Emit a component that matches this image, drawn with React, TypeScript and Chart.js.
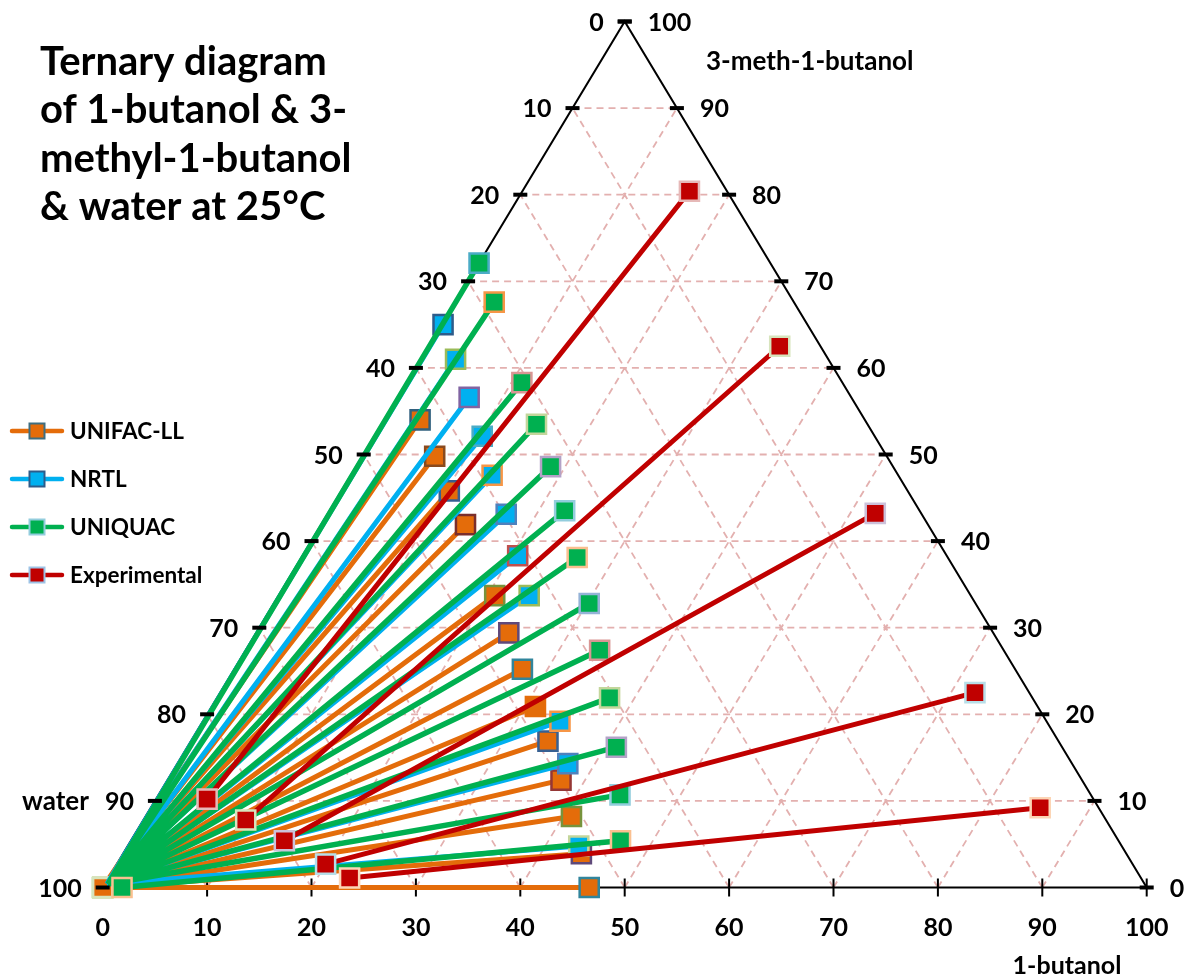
import React, { useEffect, useRef } from 'react';
import { Chart, registerables } from 'chart.js';

Chart.register(...registerables);

// ---------- data (ternary compositions, mass %: 1-butanol = b, 3-methyl-1-butanol = m, water = rest) ----------
const TICKS = [0, 10, 20, 30, 40, 50, 60, 70, 80, 90, 100];
const GRID_VALUES = [10, 20, 30, 40, 50, 60, 70, 80, 90];

const TITLE_LINES = ['Ternary diagram', 'of 1-butanol & 3-', 'methyl-1-butanol', '& water at 25°C'];
const SERIES_NAMES = ['UNIFAC-LL', 'NRTL', 'UNIQUAC', 'Experimental'];
const AXIS_BOTTOM_TITLE = '1-butanol';
const AXIS_RIGHT_TITLE = '3-meth-1-butanol';
const AXIS_LEFT_TITLE = 'water';

// UNIFAC-LL
const UNIFAC_ORG_B = [3.4, 6.9, 10.3, 13.8, 20.7, 24.2, 27.6, 31.0, 34.2, 37.7, 40.8, 43.9, 46.6];
const UNIFAC_ORG_M = [54.0, 49.8, 45.8, 41.9, 33.7, 29.4, 25.2, 20.9, 16.9, 12.4, 8.2, 3.9, 0.0];
const UNIFAC_AQ_B = [0.0, 0.0, 0.0, 0.0, 0.0, 0.0, 0.0, 0.0, 0.0, 0.0, 0.0, 0.0, 0.0];
const UNIFAC_AQ_M = [0.0, 0.0, 0.0, 0.0, 0.0, 0.0, 0.0, 0.0, 0.0, 0.0, 0.0, 0.0, 0.0];

// NRTL
const NRTL_ORG_B = [0.1, 3.3, 6.8, 10.3, 13.5, 17.1, 20.6, 24.0, 34.2, 37.4, 43.2];
const NRTL_ORG_M = [65.0, 61.0, 56.6, 52.1, 47.6, 43.1, 38.3, 33.7, 19.2, 14.3, 4.8];
const NRTL_AQ_B = [0.2, 0.2, 0.2, 0.2, 0.2, 0.2, 0.2, 0.2, 0.2, 0.2, 0.2];
const NRTL_AQ_M = [0.4, 0.4, 0.4, 0.4, 0.4, 0.4, 0.4, 0.4, 0.4, 0.4, 0.4];

// UNIQUAC
const UNIQUAC_ORG_B = [0.0, 3.7, 11.0, 14.8, 18.6, 22.5, 26.4, 30.2, 33.9, 37.6, 41.1, 44.2, 46.9];
const UNIQUAC_ORG_M = [72.1, 67.6, 58.3, 53.5, 48.6, 43.5, 38.1, 32.8, 27.4, 21.9, 16.2, 10.7, 5.4];
const UNIQUAC_AQ_B = [0.3, 0.3, 0.3, 0.3, 0.3, 0.3, 0.3, 0.3, 0.3, 0.3, 0.3, 0.3, 1.85];
const UNIQUAC_AQ_M = [0.4, 0.4, 0.4, 0.4, 0.4, 0.4, 0.4, 0.4, 0.4, 0.4, 0.4, 0.4, 0.0];

// Experimental
const EXP_ORG_B = [16.0, 33.6, 52.4, 72.3, 85.2];
const EXP_ORG_M = [80.4, 62.5, 43.2, 22.5, 9.2];
const EXP_AQ_B = [4.9, 9.8, 14.7, 20.0, 23.1];
const EXP_AQ_M = [10.2, 7.8, 5.4, 2.7, 1.1];

// ---------- styles ----------
const FONT = 'Lato, "Open Sans", sans-serif';
const C_ORANGE = '#E46C0A';
const C_BLUE = '#00B0F0';
const C_GREEN = '#00B050';
const C_RED = '#C00000';
const C_GRID = '#E3B0AF';
const MARKER_R = 13.5;

const UNIFAC_ORG_BORDER = ['#31607E', '#8A4A1E', '#376092', '#7A2E2C', '#77933C', '#5F497A', '#31859C', '#E46C0A', '#376092', '#953735', '#77933C', '#5F497A', '#31859C'];
const NRTL_ORG_BORDER = ['#2E5C8A', '#9BBB59', '#8064A2', '#4BACC6', '#F79646', '#4F81BD', '#C0504D', '#9BBB59', '#F79646', '#4F81BD', '#C3D69B'];
const UNIQUAC_ORG_BORDER = ['#4BACC6', '#F79646', '#D99694', '#C3D69B', '#B3A2C7', '#93CDDD', '#FAC090', '#95B3D7', '#D99694', '#C3D69B', '#B3A2C7', '#93CDDD', '#FAC090'];
const EXP_ORG_BORDER = ['#E6B9B8', '#D7E4BD', '#CCC1DA', '#B7DEE8', '#FCD5B5'];
const EXP_AQ_BORDER = ['#E6B9B8', '#D7E4BD', '#CCC1DA', '#B7DEE8', '#FCD5B5'];

const LEGEND_COLORS = [C_ORANGE, C_BLUE, C_GREEN, C_RED];
const LEGEND_BORDERS = ['#3F6E80', '#2E5C8A', '#93CDDD', '#9DC3E6'];

const tern = (b: number, m: number) => ({ x: b + m / 2, y: m });

function tieSeries(aqB: number[], aqM: number[], orgB: number[], orgM: number[], aqR: number[], orgBorder: string[], aqBorder: string[]) {
  const data: any[] = [];
  const radius: number[] = [];
  const borders: string[] = [];
  for (let i = 0; i < orgB.length; i++) {
    data.push(tern(aqB[i], aqM[i]), tern(orgB[i], orgM[i]), { x: orgB[i] + orgM[i] / 2, y: null });
    radius.push(aqR[i], MARKER_R, 0);
    borders.push(aqBorder[i], orgBorder[i], 'rgba(0,0,0,0)');
  }
  return { data, radius, borders };
}

export default function App() {
  const ref = useRef<HTMLCanvasElement>(null);

  useEffect(() => {
    const canvas = ref.current;
    if (!canvas) return;

    // grid lines parallel to the three sides
    const grid: any[] = [];
    GRID_VALUES.forEach((v) => {
      grid.push(tern(0, v), tern(100 - v, v), { x: 0, y: null });
      grid.push(tern(v, 0), tern(v, 100 - v), { x: 0, y: null });
      grid.push(tern(100 - v, 0), tern(0, 100 - v), { x: 0, y: null });
    });

    const triangle = [tern(0, 0), tern(0, 100), tern(100, 0), tern(0, 0)];
    const leftTicks = TICKS.map((t) => tern(0, t));
    const rightTicks = TICKS.map((t) => tern(100 - t, t));
    const bottomTicks = TICKS.map((t) => tern(t, 0));

    const uni = tieSeries(UNIFAC_AQ_B, UNIFAC_AQ_M, UNIFAC_ORG_B, UNIFAC_ORG_M,
      UNIFAC_ORG_B.map(() => MARKER_R), UNIFAC_ORG_BORDER, UNIFAC_ORG_B.map(() => '#D7E4BD'));
    const nrtl = tieSeries(NRTL_AQ_B, NRTL_AQ_M, NRTL_ORG_B, NRTL_ORG_M,
      NRTL_ORG_B.map(() => 0), NRTL_ORG_BORDER, NRTL_ORG_B.map(() => '#95B3D7'));
    const uq = tieSeries(UNIQUAC_AQ_B, UNIQUAC_AQ_M, UNIQUAC_ORG_B, UNIQUAC_ORG_M,
      UNIQUAC_ORG_B.map((_, i) => (i === UNIQUAC_ORG_B.length - 1 ? MARKER_R : 0)), UNIQUAC_ORG_BORDER, UNIQUAC_ORG_B.map(() => '#FAC090'));
    const ex = tieSeries(EXP_AQ_B, EXP_AQ_M, EXP_ORG_B, EXP_ORG_M,
      EXP_ORG_B.map(() => MARKER_R), EXP_ORG_BORDER, EXP_AQ_BORDER);

    const seriesDs = (s: any, color: string, width: number, order: number, label: string) => ({
      label,
      data: s.data,
      order,
      borderColor: color,
      borderWidth: width,
      backgroundColor: color,
      pointStyle: 'rect',
      pointRadius: s.radius,
      pointBackgroundColor: color,
      pointBorderColor: s.borders,
      pointBorderWidth: 2.5,
      spanGaps: false,
      clip: false,
    });

    const textPlugin = {
      id: 'ternaryText',
      afterDatasetsDraw(chart: any) {
        const ctx = chart.ctx;
        const xs = chart.scales.x;
        const ys = chart.scales.y;
        const px = (b: number, m: number) => xs.getPixelForValue(b + m / 2);
        const py = (m: number) => ys.getPixelForValue(m);
        ctx.save();
        ctx.fillStyle = '#000';
        ctx.textBaseline = 'alphabetic';

        // tick labels
        ctx.font = `bold 25px ${FONT}`;
        ctx.textAlign = 'right';
        TICKS.forEach((t) => {
          ctx.fillText(String(100 - t), px(0, t) - 21, py(t) + 9);
        });
        ctx.textAlign = 'left';
        TICKS.forEach((t) => {
          ctx.fillText(String(t), px(100 - t, t) + 23, py(t) + 9);
        });
        ctx.textAlign = 'center';
        TICKS.forEach((t) => {
          ctx.fillText(String(t), px(t, 0), py(0) + 48);
        });

        // axis titles
        ctx.font = `bold 26px ${FONT}`;
        ctx.textAlign = 'right';
        ctx.fillText(AXIS_LEFT_TITLE, px(0, 10) - 66, py(10) + 9);
        ctx.font = `bold 26px ${FONT}`;
        ctx.textAlign = 'left';
        ctx.fillText(AXIS_RIGHT_TITLE, 706, 70);
        ctx.font = `bold 25px ${FONT}`;
        ctx.textAlign = 'center';
        ctx.fillText(AXIS_BOTTOM_TITLE, 1067, 974);

        // title
        ctx.font = `bold 40px ${FONT}`;
        ctx.textAlign = 'left';
        TITLE_LINES.forEach((line, i) => ctx.fillText(line, 40, 75 + i * 48.4));

        // legend
        const ly = [431, 479, 527, 575];
        SERIES_NAMES.forEach((name, i) => {
          const y = ly[i];
          ctx.strokeStyle = LEGEND_COLORS[i];
          ctx.lineWidth = 4.5;
          ctx.lineCap = 'round';
          ctx.beginPath();
          ctx.moveTo(12, y);
          ctx.lineTo(62, y);
          ctx.stroke();
          ctx.fillStyle = LEGEND_COLORS[i];
          ctx.fillRect(29.5, y - 7.5, 15, 15);
          ctx.strokeStyle = LEGEND_BORDERS[i];
          ctx.lineWidth = 2;
          ctx.lineCap = 'butt';
          ctx.strokeRect(29.5, y - 7.5, 15, 15);
          ctx.fillStyle = '#000';
          ctx.font = `bold 22.5px ${FONT}`;
          ctx.textAlign = 'left';
          ctx.fillText(name, 70, y + 8);
        });
        ctx.restore();
      },
    };

    const chart = new Chart(canvas, {
      type: 'line',
      data: {
        datasets: [
          {
            label: 'grid', data: grid, order: 100, borderColor: C_GRID, borderWidth: 1.8,
            borderDash: [7, 5], pointRadius: 0, spanGaps: false, clip: false,
          } as any,
          {
            label: 'triangle', data: triangle, order: 90, borderColor: '#000', borderWidth: 2,
            pointRadius: 0, clip: false,
          } as any,
          seriesDs(uni, C_ORANGE, 5, 50, SERIES_NAMES[0]),
          seriesDs(nrtl, C_BLUE, 5, 40, SERIES_NAMES[1]),
          seriesDs(uq, C_GREEN, 5.5, 30, SERIES_NAMES[2]),
          seriesDs(ex, C_RED, 5, 20, SERIES_NAMES[3]),
          {
            label: 'leftTicks', data: leftTicks, order: 10, showLine: false, pointStyle: 'line',
            pointRadius: 7, pointBorderWidth: 4, pointBorderColor: '#000', pointBackgroundColor: '#000', clip: false,
          } as any,
          {
            label: 'rightTicks', data: rightTicks, order: 10, showLine: false, pointStyle: 'line',
            pointRadius: 7, pointBorderWidth: 4, pointBorderColor: '#000', pointBackgroundColor: '#000', clip: false,
          } as any,
          {
            label: 'bottomTicks', data: bottomTicks, order: 60, showLine: false, pointStyle: 'line',
            pointRotation: 90, pointRadius: 9, pointBorderWidth: 2, pointBorderColor: '#000', pointBackgroundColor: '#000', clip: false,
          } as any,
        ],
      },
      options: {
        responsive: false,
        animation: false,
        devicePixelRatio: 1,
        layout: { padding: { left: 102.7, right: 43.3, top: 21.5, bottom: 92.5 } },
        scales: {
          x: { type: 'linear', min: 0, max: 100, display: false },
          y: { type: 'linear', min: 0, max: 100, display: false },
        },
        elements: { line: { tension: 0 } },
        plugins: { legend: { display: false }, tooltip: { enabled: false } },
      } as any,
      plugins: [textPlugin],
    });

    return () => chart.destroy();
  }, []);

  return (
    <div style={{ position: 'fixed', left: 0, top: 0, width: 1190, height: 980, background: '#fff' }}>
      <canvas ref={ref} width={1190} height={980} style={{ display: 'block', width: 1190, height: 980 }} />
    </div>
  );
}
